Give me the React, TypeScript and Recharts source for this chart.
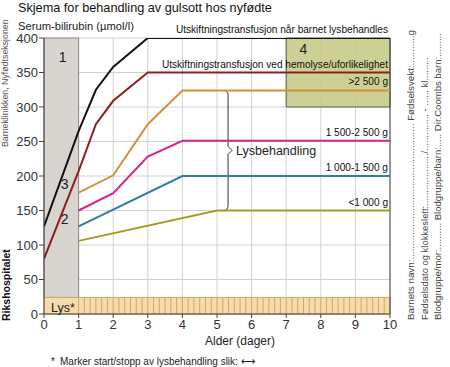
import React from 'react';
import {
  LineChart,
  Line,
  XAxis,
  YAxis,
  CartesianGrid,
  ReferenceArea,
  ReferenceLine,
  ReferenceDot,
} from 'recharts';

// ---- data ----
const dayTicks = [0, 1, 2, 3, 4, 5, 6, 7, 8, 9, 10];
const bilirubinTicks = [0, 50, 100, 150, 200, 250, 300, 350, 400];

const exchangePhoto = [
  { x: 0, y: 127 },
  { x: 1, y: 265 },
  { x: 1.5, y: 325 },
  { x: 2, y: 358 },
  { x: 3, y: 400 },
  { x: 10, y: 400 },
];
const exchangeHemolysis = [
  { x: 0, y: 80 },
  { x: 1, y: 207 },
  { x: 1.5, y: 275 },
  { x: 2, y: 309 },
  { x: 3, y: 350 },
  { x: 10, y: 350 },
];
const photoOver2500 = [
  { x: 1, y: 176 },
  { x: 2, y: 201 },
  { x: 3, y: 275 },
  { x: 4, y: 324 },
  { x: 10, y: 324 },
];
const photo1500to2500 = [
  { x: 1, y: 150 },
  { x: 2, y: 175 },
  { x: 3, y: 228 },
  { x: 4, y: 251 },
  { x: 10, y: 251 },
];
const photo1000to1500 = [
  { x: 1, y: 127 },
  { x: 4, y: 200 },
  { x: 10, y: 200 },
];
const photoUnder1000 = [
  { x: 1, y: 106 },
  { x: 5, y: 150 },
  { x: 10, y: 150 },
];

const lineLabels = [
  { text: 'Utskiftningstransfusjon når barnet lysbehandles', y: 400 },
  { text: 'Utskiftningstransfusjon ved hemolyse/uforlikelighet', y: 350 },
  { text: '>2 500 g', y: 324 },
  { text: '1 500-2 500 g', y: 251 },
  { text: '1 000-1 500 g', y: 200 },
  { text: '<1 000 g', y: 150 },
];

const zoneLabels = [
  { text: '1', x: 0.54, y: 373 },
  { text: '3', x: 0.6, y: 189 },
  { text: '2', x: 0.6, y: 137 },
  { text: '4', x: 7.5, y: 384 },
];

const greyZone = { x1: 0, x2: 1, y1: 24, y2: 400 };
const zone4 = { x1: 7, x2: 10, y1: 300, y2: 400 };
const lysBand = { x1: 0, x2: 10, y1: 0, y2: 24 };
const braceRange = { x: 5.32, y1: 150, y2: 324 };

const stripes: number[] = [];
for (let i = 6; i <= 60; i++) stripes.push(i / 6);

const FONT = "'Liberation Sans', Arial, Helvetica, sans-serif";

const Brace = (p: any) => {
  const x = p.x1;
  const top = Math.min(p.y1, p.y2);
  const bot = Math.max(p.y1, p.y2);
  const mid = (top + bot) / 2;
  const d = `M ${x - 5} ${top} Q ${x} ${top} ${x} ${top + 5} L ${x} ${mid - 4} L ${x + 4} ${mid} L ${x} ${mid + 4} L ${x} ${bot - 5} Q ${x} ${bot} ${x - 5} ${bot}`;
  return (
    <g>
      <path d={d} fill="none" stroke="#333" strokeWidth={1} />
      <text x={x + 8} y={mid + 4.5} fontSize={12.5} fill="#222" fontFamily={FONT}>
        Lysbehandling
      </text>
    </g>
  );
};

export default function App() {
  return (
    <div style={{ position: 'absolute', left: 0, top: 0, width: 450, height: 367, background: '#fff' }}>
      <LineChart
        width={450}
        height={367}
        margin={{ top: 38, right: 60, bottom: 23, left: 0 }}
        style={{ fontFamily: FONT }}
      >
        <CartesianGrid stroke="#d2d2d2" strokeWidth={1} />
        <XAxis
          dataKey="x"
          type="number"
          domain={[0, 10]}
          ticks={dayTicks}
          height={30}
          tickSize={4}
          tickMargin={2}
          stroke="#444"
          tick={{ fill: '#333', fontSize: 13 }}
          allowDataOverflow
        />
        <YAxis
          type="number"
          domain={[0, 400]}
          ticks={bilirubinTicks}
          width={44}
          tickSize={5}
          tickMargin={1}
          stroke="#444"
          tick={{ fill: '#333', fontSize: 13 }}
          allowDataOverflow
        />
        <ReferenceArea {...greyZone} fill="#d8d4cf" fillOpacity={1} stroke="#8a8a8a" strokeWidth={1} />
        <ReferenceArea {...zone4} fill="#c8cb8a" fillOpacity={0.9} stroke="#5e5e4a" strokeWidth={1} />
        <ReferenceArea {...lysBand} fill="#f5dcaa" fillOpacity={1} stroke="#c9a86e" strokeWidth={1} />
        {stripes.map((s) => (
          <ReferenceLine
            key={'s' + s}
            segment={[
              { x: s, y: 0 },
              { x: s, y: lysBand.y2 },
            ]}
            stroke="#d0a866"
            strokeWidth={1}
          />
        ))}
        <ReferenceLine x={10} stroke="#444" strokeWidth={1} />
        <ReferenceLine
          segment={[
            { x: braceRange.x, y: braceRange.y1 },
            { x: braceRange.x, y: braceRange.y2 },
          ]}
          shape={Brace}
        />
        <Line data={photoUnder1000} dataKey="y" type="linear" stroke="#a69b22" strokeWidth={2} dot={false} isAnimationActive={false} />
        <Line data={photo1000to1500} dataKey="y" type="linear" stroke="#2f7ca4" strokeWidth={2} dot={false} isAnimationActive={false} />
        <Line data={photo1500to2500} dataKey="y" type="linear" stroke="#d4268a" strokeWidth={2} dot={false} isAnimationActive={false} />
        <Line data={photoOver2500} dataKey="y" type="linear" stroke="#d4913a" strokeWidth={2} dot={false} isAnimationActive={false} />
        <Line data={exchangeHemolysis} dataKey="y" type="linear" stroke="#8e1f1f" strokeWidth={2} dot={false} isAnimationActive={false} />
        <Line data={exchangePhoto} dataKey="y" type="linear" stroke="#111" strokeWidth={2} dot={false} isAnimationActive={false} />
        {lineLabels.map((l) => (
          <ReferenceDot
            key={l.text}
            x={10}
            y={l.y}
            r={0}
            shape={(p: any) => (
              <text x={p.cx - 2} y={p.cy - 5} textAnchor="end" fontSize={10.1} fill="#111" fontFamily={FONT}>
                {l.text}
              </text>
            )}
          />
        ))}
        {zoneLabels.map((l) => (
          <ReferenceDot
            key={'z' + l.text}
            x={l.x}
            y={l.y}
            r={0}
            shape={(p: any) => (
              <text x={p.cx} y={p.cy + 5} textAnchor="middle" fontSize={14} fill="#222" fontFamily={FONT}>
                {l.text}
              </text>
            )}
          />
        ))}
        <ReferenceDot
          x={0.55}
          y={10}
          r={0}
          shape={(p: any) => (
            <text x={p.cx} y={p.cy + 4.5} textAnchor="middle" fontSize={12.5} fill="#222" fontFamily={FONT}>
              Lys*
            </text>
          )}
        />
      </LineChart>
      <svg
        width={450}
        height={367}
        style={{ position: 'absolute', left: 0, top: 0, pointerEvents: 'none' }}
        fontFamily={FONT}
      >
        <text x={18} y={12} fontSize={12.7} fill="#111">
          Skjema for behandling av gulsott hos nyfødte
        </text>
        <text x={18} y={30} fontSize={11.2} fill="#222">
          Serum-bilirubin (µmol/l)
        </text>
        <text transform="translate(8,147) rotate(-90)" fontSize={8.8} fill="#555">
          Barneklinikken, Nyfødtseksjonen
        </text>
        <text transform="translate(9.5,321) rotate(-90)" fontSize={10.5} fontWeight="bold" fill="#111">
          Rikshospitalet
        </text>
        <text x={240} y={345} textAnchor="middle" fontSize={12} fill="#222">
          Alder (dager)
        </text>
        <text x={51} y={365} fontSize={10} fill="#222">
          *
        </text>
        <text x={60} y={365} fontSize={10} fill="#222">
          Marker start/stopp av lysbehandling slik: ⟷
        </text>
        <text transform="translate(414,320) rotate(-90)" fontSize={9.5} fill="#444" textLength={290} lengthAdjust="spacingAndGlyphs">
          Barnets navn:..................................................    Fødselsvekt:...........g
        </text>
        <text transform="translate(428,320) rotate(-90)" fontSize={9.5} fill="#444" textLength={263} lengthAdjust="spacingAndGlyphs">
          Fødselsdato og klokkeslett:..................../.............. - ...... kl.........
        </text>
        <text transform="translate(441,320) rotate(-90)" fontSize={9.5} fill="#444" textLength={287} lengthAdjust="spacingAndGlyphs">
          Blodgruppe/mor:.......... Blodgruppe/barn:..... Dir.Coombs barn:.........
        </text>
      </svg>
    </div>
  );
}
